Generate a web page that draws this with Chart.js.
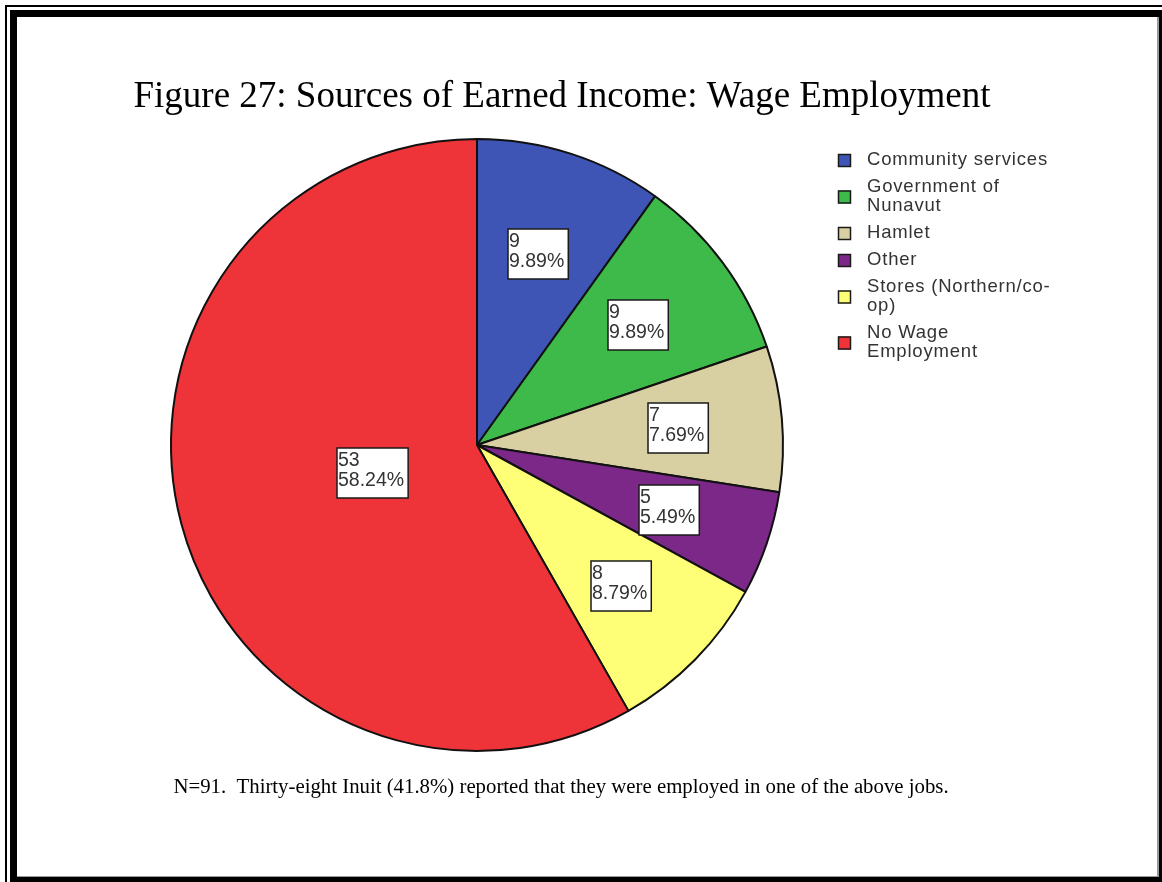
<!DOCTYPE html>
<html lang="en">
<head>
<meta charset="UTF-8">
<title>Figure 27</title>
<script src="https://cdn.jsdelivr.net/npm/chart.js"></script>
<style>
  body { margin: 0; background: #fff; overflow: hidden; }
  .frame-thin { position: absolute; left: 5px; top: 5px; width: 1300px; height: 1000px; border: 2px solid #000; }
  .frame-thick { position: absolute; left: 10px; top: 10px; right: 0; bottom: 0; border-style: solid; border-color: #000; border-width: 7px 3px 5px 7px; }
  .frame-inner { position: absolute; left: 17px; top: 17px; right: 3px; bottom: 5px; border-right: 2px solid #999; border-bottom: 1px solid #999; background: #fff; }
  #chart { position: absolute; left: 0; top: 0; }
</style>
</head>
<body>
<div class="frame-thin"></div>
<div class="frame-thick"></div>
<div class="frame-inner"></div>
<canvas id="chart" width="1162" height="882"></canvas>

<script>
  // data
  const categories = ['Community services', 'Government of Nunavut', 'Hamlet', 'Other', 'Stores (Northern/co-op)', 'No Wage Employment'];
  const legendLines = [['Community services'], ['Government of', 'Nunavut'], ['Hamlet'], ['Other'], ['Stores (Northern/co-', 'op)'], ['No Wage', 'Employment']];
  const counts = [9, 9, 7, 5, 8, 53];
  const percents = ['9.89%', '9.89%', '7.69%', '5.49%', '8.79%', '58.24%'];
  const sliceColors = ['#3e55b5', '#3dba4a', '#d8cfa2', '#7c2888', '#ffff77', '#ee3339'];

  const titleText = 'Figure 27: Sources of Earned Income: Wage Employment';
  const noteText = 'N=91.  Thirty-eight Inuit (41.8%) reported that they were employed in one of the above jobs.';

  // title, footnote and legend
  const decorations = {
    id: 'decorations',
    afterDraw(chart) {
      const ctx = chart.ctx;
      ctx.save();
      ctx.fillStyle = '#000';
      ctx.textAlign = 'center';
      ctx.textBaseline = 'alphabetic';
      ctx.font = '37px "Liberation Serif"';
      ctx.fillText(titleText, 562, 107);
      ctx.font = '20.8px "Liberation Serif"';
      ctx.fillText(noteText, 561, 793);

      // legend
      ctx.textAlign = 'left';
      ctx.textBaseline = 'middle';
      ctx.font = '18.5px "Liberation Sans"';
      ctx.letterSpacing = '0.8px';
      let y = 160;
      legendLines.forEach((lines, i) => {
        const mid = y + (lines.length - 1) * 19 / 2;
        ctx.fillStyle = sliceColors[i];
        ctx.fillRect(838, mid - 6, 13, 13);
        ctx.strokeStyle = '#1a1a1a';
        ctx.lineWidth = 1.5;
        ctx.strokeRect(838.5, mid - 5.5, 12, 12);
        ctx.fillStyle = '#333';
        lines.forEach((t, k) => ctx.fillText(t, 867, y + k * 19));
        y += (lines.length - 1) * 19 + 27;
      });
      ctx.restore();
    }
  };

  // value boxes placed at each slice's centroid
  const sliceLabels = {
    id: 'sliceLabels',
    afterDatasetsDraw(chart) {
      const ctx = chart.ctx;
      const meta = chart.getDatasetMeta(0);
      ctx.save();
      ctx.font = '19.5px "Liberation Sans"';
      ctx.textBaseline = 'top';
      ctx.textAlign = 'left';
      meta.data.forEach((arc, i) => {
        const p = arc.getProps(['x', 'y', 'startAngle', 'endAngle', 'outerRadius'], true);
        const a = p.endAngle - p.startAngle;
        const r = 4 * p.outerRadius * Math.sin(a / 2) / (3 * a);
        const mid = (p.startAngle + p.endAngle) / 2;
        const cx = p.x + r * Math.cos(mid);
        const cy = p.y + r * Math.sin(mid);
        const lines = [String(counts[i]), percents[i]];
        const w = Math.max(...lines.map(t => ctx.measureText(t).width)) + 5;
        const h = 50;
        const bx = Math.round(cx - w / 2), by = Math.round(cy - h / 2);
        ctx.fillStyle = '#fff';
        ctx.fillRect(bx, by, w, h);
        ctx.strokeStyle = '#1a1a1a';
        ctx.lineWidth = 1.5;
        ctx.strokeRect(bx, by, w, h);
        ctx.fillStyle = '#333';
        lines.forEach((t, k) => ctx.fillText(t, bx + 1, by + 3 + k * 20));
      });
      ctx.restore();
    }
  };

  new Chart(document.getElementById('chart'), {
    type: 'pie',
    data: {
      labels: categories,
      datasets: [{
        data: counts,
        backgroundColor: sliceColors,
        borderColor: '#111',
        borderWidth: 2
      }]
    },
    options: {
      responsive: false,
      animation: false,
      layout: { padding: { left: 170, top: 138, right: 378, bottom: 130 } },
      plugins: {
        legend: { display: false },
        tooltip: { enabled: false }
      }
    },
    plugins: [sliceLabels, decorations]
  });
</script>
</body>
</html>
